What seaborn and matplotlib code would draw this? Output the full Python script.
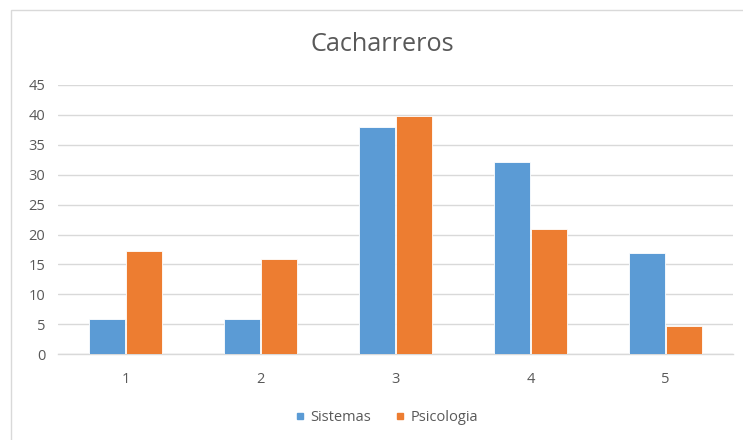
import numpy as np
import pandas as pd
import seaborn as sns
import matplotlib.pyplot as plt
from matplotlib.lines import Line2D
from matplotlib.patches import Rectangle

# valori
categorias = ["1", "2", "3", "4", "5"]
sistemas = [5.8, 5.8, 38.0, 32.2, 16.9]
psicologia = [17.2, 15.9, 39.8, 21.0, 4.7]
series = ["Sistemas", "Psicologia"]
colores = ["#5B9BD5", "#ED7D31"]

df = pd.DataFrame({
    "cat": categorias * 2,
    "valor": sistemas + psicologia,
    "serie": [series[0]] * 5 + [series[1]] * 5,
})

sns.set_theme(style="white")
plt.rcParams['font.family'] = ['Open Sans', 'DejaVu Sans']
gris = "#595959"

fig = plt.figure(figsize=(7.43, 4.40), dpi=100)
ax = fig.add_axes([0.078, 0.195, 0.9085, 0.612])

sns.barplot(data=df, x="cat", y="valor", hue="serie", palette=colores,
            saturation=1, width=0.545, gap=0.04, edgecolor="white", linewidth=0.6,
            legend=False, ax=ax, zorder=3)

ax.set_ylim(0, 45)
ax.set_yticks(np.arange(0, 50, 5))
ax.set_xlim(-0.5, 4.5)
ax.grid(axis="y", color="#D9D9D9", linewidth=1.0, zorder=0)
ax.set_xlabel("")
ax.set_ylabel("")
for s in ["top", "right", "left"]:
    ax.spines[s].set_visible(False)
ax.spines["bottom"].set_color("#D9D9D9")
ax.spines["bottom"].set_linewidth(1.0)

ax.tick_params(axis="y", length=0, pad=9, labelsize=10.5, labelcolor=gris)
ax.tick_params(axis="x", which="major", length=0, pad=13, labelsize=10.5, labelcolor=gris)
ax.set_xticks(np.arange(-0.5, 5, 1), minor=True)
ax.tick_params(axis="x", which="minor", length=5, width=1.0, color="#D9D9D9", direction="out")

fig.text(0.515, 0.898, "Cacharreros", ha="center", va="center", fontsize=18.2, color=gris)

handles = [Line2D([], [], marker="s", linestyle="none", markersize=5,
                  markerfacecolor=c, markeredgecolor=c) for c in colores]
fig.legend(handles, series, loc="center", bbox_to_anchor=(0.52, 0.052), ncol=2,
           frameon=False, fontsize=10.5, labelcolor=gris, handletextpad=0.3,
           columnspacing=1.6, handlelength=0.8)

fig.patches.append(Rectangle((10.5 / 743, -0.05), 1.1, 1 - 10.5 / 440 + 0.05,
                             transform=fig.transFigure, fill=False,
                             edgecolor="#D9D9D9", linewidth=1.0))

fig.savefig("out.png", dpi=100)
